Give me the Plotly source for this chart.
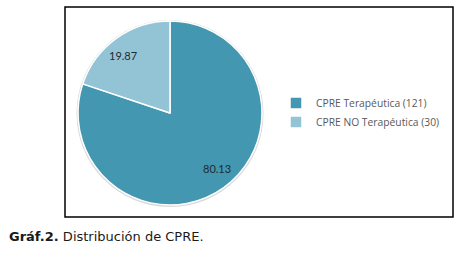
import math
import plotly.graph_objects as go

categories = ["CPRE Terapéutica (121)", "CPRE NO Terapéutica (30)"]
values = [80.13, 19.87]
labels_text = ["80.13", "19.87"]
colors = ["#4397B0", "#93C4D6"]

W, H = 461, 258
cx, cy, r = 170, 113, 92

def px(x):
    return x / W

def py(y):
    return 1 - y / H

fig = go.Figure()
# faint shadow ring
fig.add_trace(go.Pie(
    values=[1], labels=["shadow"], showlegend=False, sort=False,
    marker=dict(colors=["#D8D8D8"], line=dict(width=0)),
    textinfo="none", hoverinfo="skip",
    domain=dict(x=[px(cx - r - 1.5), px(cx + r + 1.5)], y=[py(cy + r + 2), py(cy - r - 1)]),
))
fig.add_trace(go.Pie(
    values=values, labels=categories, textinfo="none",
    sort=False, direction="clockwise", rotation=0,
    marker=dict(colors=colors, line=dict(color="white", width=1.5)),
    domain=dict(x=[px(cx - r), px(cx + r)], y=[py(cy + r), py(cy - r)]),
))

# data labels placed at each slice's mid-angle
total = sum(values)
cum = 0.0
for v, t in zip(values, labels_text):
    mid = (cum + v / 2) / total * 2 * math.pi - math.radians(4)
    cum += v
    rr = 73
    lx = cx + rr * math.sin(mid)
    ly = cy - rr * math.cos(mid)
    fig.add_annotation(xref="paper", yref="paper", x=px(lx), y=py(ly - 1),
                       xanchor="center", yanchor="middle", showarrow=False,
                       text=t, font=dict(family="Lato", size=11, color="#1E2B33"))

fig.add_shape(type="rect", xref="paper", yref="paper",
              x0=px(65), x1=px(453), y0=py(217), y1=py(7),
              line=dict(color="black", width=1.5))

fig.add_annotation(xref="paper", yref="paper", x=px(7), y=py(236),
                   xanchor="left", yanchor="middle", showarrow=False,
                   text="<b>Gráf.2.</b> Distribución de CPRE.",
                   font=dict(family="DejaVu Sans", size=13, color="#1a1a1a"))

fig.update_layout(
    width=W, height=H, margin=dict(l=0, r=0, t=0, b=0, autoexpand=False),
    paper_bgcolor="white", plot_bgcolor="white",
    legend=dict(x=px(276), y=py(88.5), xanchor="left", yanchor="top",
                font=dict(family="Open Sans", size=10.3, color="#595959"),
                itemwidth=30, tracegroupgap=0),
)

fig.write_html("out.html")
